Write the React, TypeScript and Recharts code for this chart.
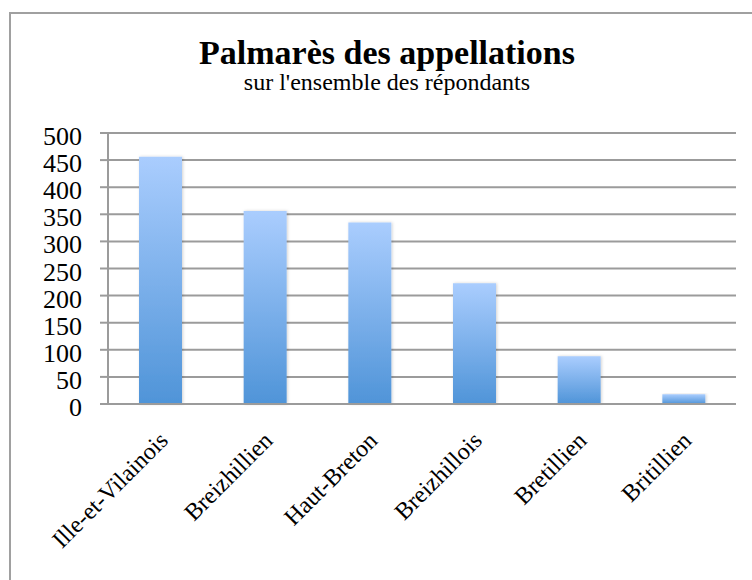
import { BarChart, Bar, XAxis, YAxis, CartesianGrid } from "recharts";

const categories = [
  "Ille-et-Vilainois",
  "Breizhillien",
  "Haut-Breton",
  "Breizhillois",
  "Bretillien",
  "Britillien",
];
const counts = [456, 356, 335, 223, 88, 18];
const yTicks = [0, 50, 100, 150, 200, 250, 300, 350, 400, 450, 500];
const boundaryTicks = [0, 1, 2, 3, 4, 5, 6];

const data = categories.map((name, i) => ({ name, value: counts[i], pos: i + 0.5 }));

const serif = "'Liberation Serif', 'DejaVu Serif', serif";

function AngledTick(props: any) {
  const { x, y, payload } = props;
  const ax = x + 9;
  const ay = y + 29;
  return (
    <text
      x={ax}
      y={ay}
      transform={`rotate(-45, ${ax}, ${ay})`}
      textAnchor="end"
      fontFamily={serif}
      fontSize={24}
      fill="#000"
    >
      {payload.value}
    </text>
  );
}

function ValueTick(props: any) {
  const { x, y, payload } = props;
  return (
    <text x={x} y={y + 12} textAnchor="end" fontFamily={serif} fontSize={26} fill="#000">
      {payload.value}
    </text>
  );
}

export default function App() {
  return (
    <div
      style={{
        position: "fixed",
        left: 0,
        top: 0,
        width: 752,
        height: 580,
        overflow: "hidden",
        background: "#fff",
      }}
    >
      <div
        style={{
          position: "absolute",
          left: 9,
          top: 12,
          width: 800,
          height: 620,
          border: "2px solid #a0a0a0",
        }}
      />
      <div
        style={{
          position: "absolute",
          left: 0,
          width: 752,
          top: 36,
          textAlign: "center",
          fontFamily: serif,
          paddingLeft: 22,
          boxSizing: "border-box",
        }}
      >
        <div style={{ fontWeight: "bold", fontSize: 34, lineHeight: "34px" }}>
          Palmarès des appellations
        </div>
        <div style={{ fontSize: 24, lineHeight: "24px" }}>sur l'ensemble des répondants</div>
      </div>
      <BarChart
        width={752}
        height={580}
        data={data}
        margin={{ top: 133, right: 16, bottom: 26, left: 48 }}
        style={{ position: "absolute", left: 0, top: 0 }}
      >
        <defs>
          <linearGradient id="barFill" x1="0" y1="0" x2="0" y2="1">
            <stop offset="0%" stopColor="#aacdfe" />
            <stop offset="100%" stopColor="#4f94d8" />
          </linearGradient>
          <filter id="barShadow" x="-20%" y="-5%" width="140%" height="110%">
            <feDropShadow dx="1" dy="0" stdDeviation="1.5" floodColor="#000" floodOpacity="0.18" />
          </filter>
        </defs>
        <CartesianGrid vertical={false} stroke="#9b9b9b" strokeWidth={2} />
        <XAxis
          xAxisId="a"
          dataKey="pos"
          type="number"
          domain={[0, 6]}
          ticks={boundaryTicks}
          tick={false}
          height={1}
          tickSize={8}
          axisLine={{ stroke: "#9b9b9b", strokeWidth: 2 }}
          tickLine={{ stroke: "#9b9b9b", strokeWidth: 2 }}
        />
        <XAxis
          xAxisId="b"
          dataKey="name"
          interval={0}
          height={149}
          axisLine={false}
          tickLine={false}
          tick={<AngledTick />}
        />
        <YAxis
          domain={[0, 500]}
          ticks={yTicks}
          interval={0}
          width={60}
          tickSize={8}
          tickMargin={18}
          axisLine={{ stroke: "#9b9b9b", strokeWidth: 2 }}
          tickLine={{ stroke: "#9b9b9b", strokeWidth: 2 }}
          tick={<ValueTick />}
        />
        <Bar
          xAxisId="b"
          dataKey="value"
          barSize={43}
          fill="url(#barFill)"
          filter="url(#barShadow)"
          isAnimationActive={false}
        />
      </BarChart>
    </div>
  );
}
